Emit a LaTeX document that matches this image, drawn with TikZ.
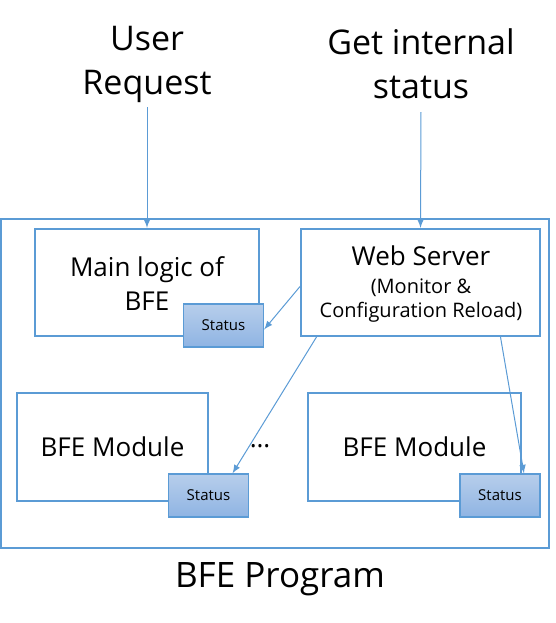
\documentclass[tikz,border=0pt]{standalone}
\usepackage{fontspec}
\setmainfont{Open Sans}
\definecolor{lineblue}{HTML}{5B9BD5}
\definecolor{stattop}{HTML}{B7CEEB}
\definecolor{statbot}{HTML}{8FB4E3}
\tikzset{
    statbox/.style={draw=lineblue, line width=0.6pt, top color=stattop, bottom color=statbot,
        minimum width=40pt, minimum height=21.5pt, font=\fontsize{7.5}{9}\selectfont},
    arr/.style={->, >=latex, draw=lineblue, line width=0.5pt}
}
\begin{document}
\begin{tikzpicture}[x=0.5pt, y=-0.5pt]
            \useasboundingbox (0, 0) rectangle (556, 623);
            \draw[lineblue, line width=1pt] (1, 219) rectangle (549, 548);
            \node[draw=lineblue, line width=1pt, minimum width=112pt, minimum height=53.5pt] (main) at (147, 282.5) {};
            \node[font=\fontsize{13}{17}\selectfont, align=center] at (147, 284) {Main logic of\\BFE};
            \node[draw=lineblue, line width=1pt, minimum width=119.5pt, minimum height=53.5pt] (web) at (420.5, 282.5) {};
            \node[font=\fontsize{13}{16}\selectfont] at (421, 256) {Web Server};
            \node[font=\fontsize{10}{12}\selectfont, align=center] at (421, 301) {(Monitor \&\\Configuration Reload)};
            \node[draw=lineblue, line width=1pt, minimum width=95.5pt, minimum height=54pt, font=\fontsize{13}{16}\selectfont] (modA) at (112.5, 447) {BFE Module};
            \node[draw=lineblue, line width=1pt, minimum width=106.5pt, minimum height=54pt, font=\fontsize{13}{16}\selectfont] (modB) at (414.5, 447) {BFE Module};
            \node[statbox] (statMain) at (223.5, 325.5) {Status};
            \node[statbox] (statA) at (208.5, 495.5) {Status};
            \node[statbox] (statB) at (500, 495.5) {Status};
            \node[font=\fontsize{13}{16}\selectfont] (dots) at (260, 446) {\dots};
            \node[font=\fontsize{17}{22}\selectfont, align=center] (user) at (147, 64) {User\\Request};
            \node[font=\fontsize{17}{22}\selectfont, align=center] (stat) at (421, 64) {Get internal\\status};
            \node[font=\fontsize{17.5}{22}\selectfont] (prog) at (280, 579) {BFE Program};
            \coordinate (userEnd) at (147, 107);
            \coordinate (statEnd) at (421, 112);
            \draw[arr] (userEnd) -- (main.north);
            \draw[arr] (statEnd) -- (web.north);
            \draw[arr] ([yshift=-2pt]web.west) -- ([yshift=-2pt]statMain.east);
            \draw[arr] ([xshift=-52pt]web.south) -- ([xshift=12pt]statA.north);
            \draw[arr] ([xshift=40pt]web.south) -- ([xshift=12pt]statB.north);
        \end{tikzpicture}
\end{document}
